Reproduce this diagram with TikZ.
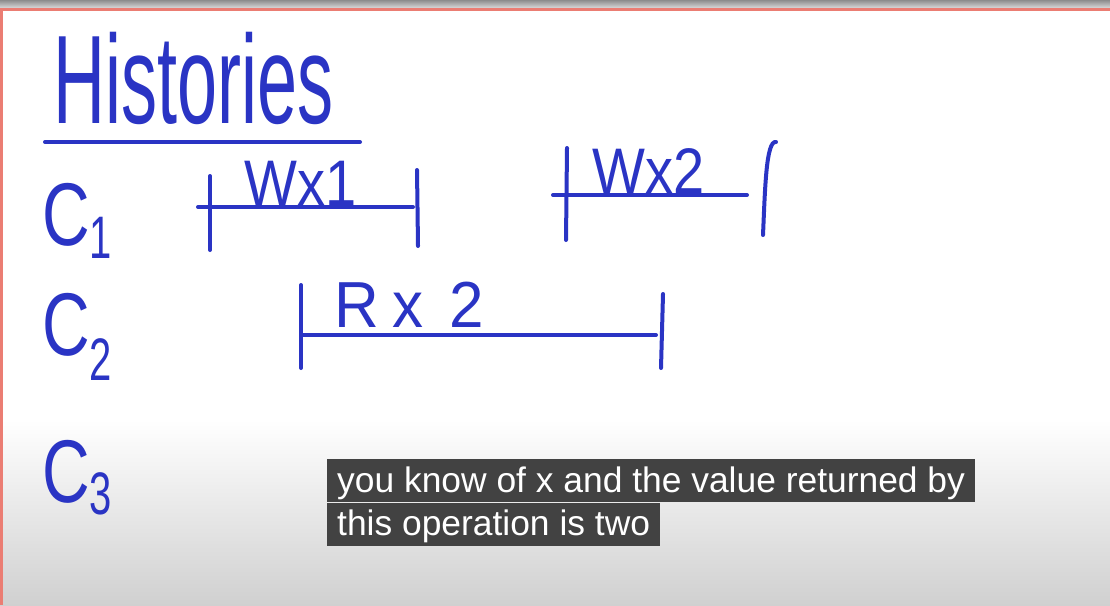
\documentclass[tikz,border=0pt]{standalone}
\usepackage{fontspec}
\setmainfont{Liberation Sans}
\usetikzlibrary{calc,positioning}
\definecolor{ink}{RGB}{42,52,196}
\definecolor{capbg}{RGB}{66,66,66}
\definecolor{boardred}{RGB}{235,125,115}
\definecolor{boardgray}{RGB}{208,208,208}
\newcommand{\tall}[2][1.5]{\scalebox{1}[#1]{#2}}
\newcommand{\handfont}[1]{\fontsize{#1}{#1}\selectfont}

\begin{document}
\begin{tikzpicture}[x=1pt,y=-1pt,
    pen/.style={ink,line width=4pt,line cap=round,line join=round},
    hand/.style={ink,inner sep=0pt,anchor=base west},
    caption/.style={fill=capbg,text=white,font=\handfont{35.4},inner xsep=10pt,inner ysep=2pt,text height=31pt,text depth=8pt,anchor=north west}]
        \useasboundingbox (0,0) rectangle (1110,605);

        % board
        \fill[white] (0,0) rectangle (1110,605);
        \shade[top color=white,bottom color=boardgray] (0,420) rectangle (1110,605);
        \shade[top color=gray!90,bottom color=gray!30] (0,0) rectangle (1110,8);
        \fill[boardred] (0,8) rectangle (1110,11);
        \fill[boardred] (0,11) rectangle (3,605);

        % title
        \node[hand] (histories) at (53,123) {\handfont{72}\tall[1.75]{Histories}};
        \draw[pen] (45,142) -- (360,142);

        % clients
        \node[hand] (cone) at (42,245) {\handfont{66}\tall[1.35]{C}\raisebox{-13pt}{\handfont{40}\tall{1}}};
        \node[hand] (ctwo) at (42,355) {\handfont{66}\tall[1.35]{C}\raisebox{-25pt}{\handfont{40}\tall{2}}};
        \node[hand] (cthree) at (42,502) {\handfont{66}\tall[1.35]{C}\raisebox{-12pt}{\handfont{40}\tall{3}}};

        % W x 1
        \coordinate (A1) at (198,207);
        \coordinate (B1) at (413,207);
        \draw[pen] (A1) -- (B1);
        \draw[pen] (210,176) -- (210,250); % start
        \draw[pen] (417,170) -- (418,246); % end
        \node[hand] (wxone) at (244,205) {\handfont{56}\tall[1.15]{Wx1}};

        % W x 2
        \coordinate (A2) at (553,195);
        \coordinate (B2) at (747,195);
        \draw[pen] (A2) -- (B2);
        \draw[pen] (567,148) -- (566,240); % start
        \draw[pen] (776,142) .. controls (766,140) and (765,190) .. (763,235); % still open
        \node[hand] (wxtwo) at (592,193) {\handfont{56}\tall[1.15]{Wx2}};

        % R x 2
        \coordinate (A3) at (301,335);
        \coordinate (B3) at (656,335);
        \draw[pen] (A3) -- (B3);
        \draw[pen] (301,285) -- (301,368); % start
        \draw[pen] (663,294) -- (661,368); % end
        \node[hand] (rxtwo) at (334,327) {\handfont{62}\tall[1.05]{R\hspace{14pt}x\hspace{26pt}2}};

        % subtitles
        \node[caption] (capone) at (327,459) {you know of x and the value returned by};
        \node[caption] (captwo) at (capone.south west) {this operation is two};
    \end{tikzpicture}
\end{document}
